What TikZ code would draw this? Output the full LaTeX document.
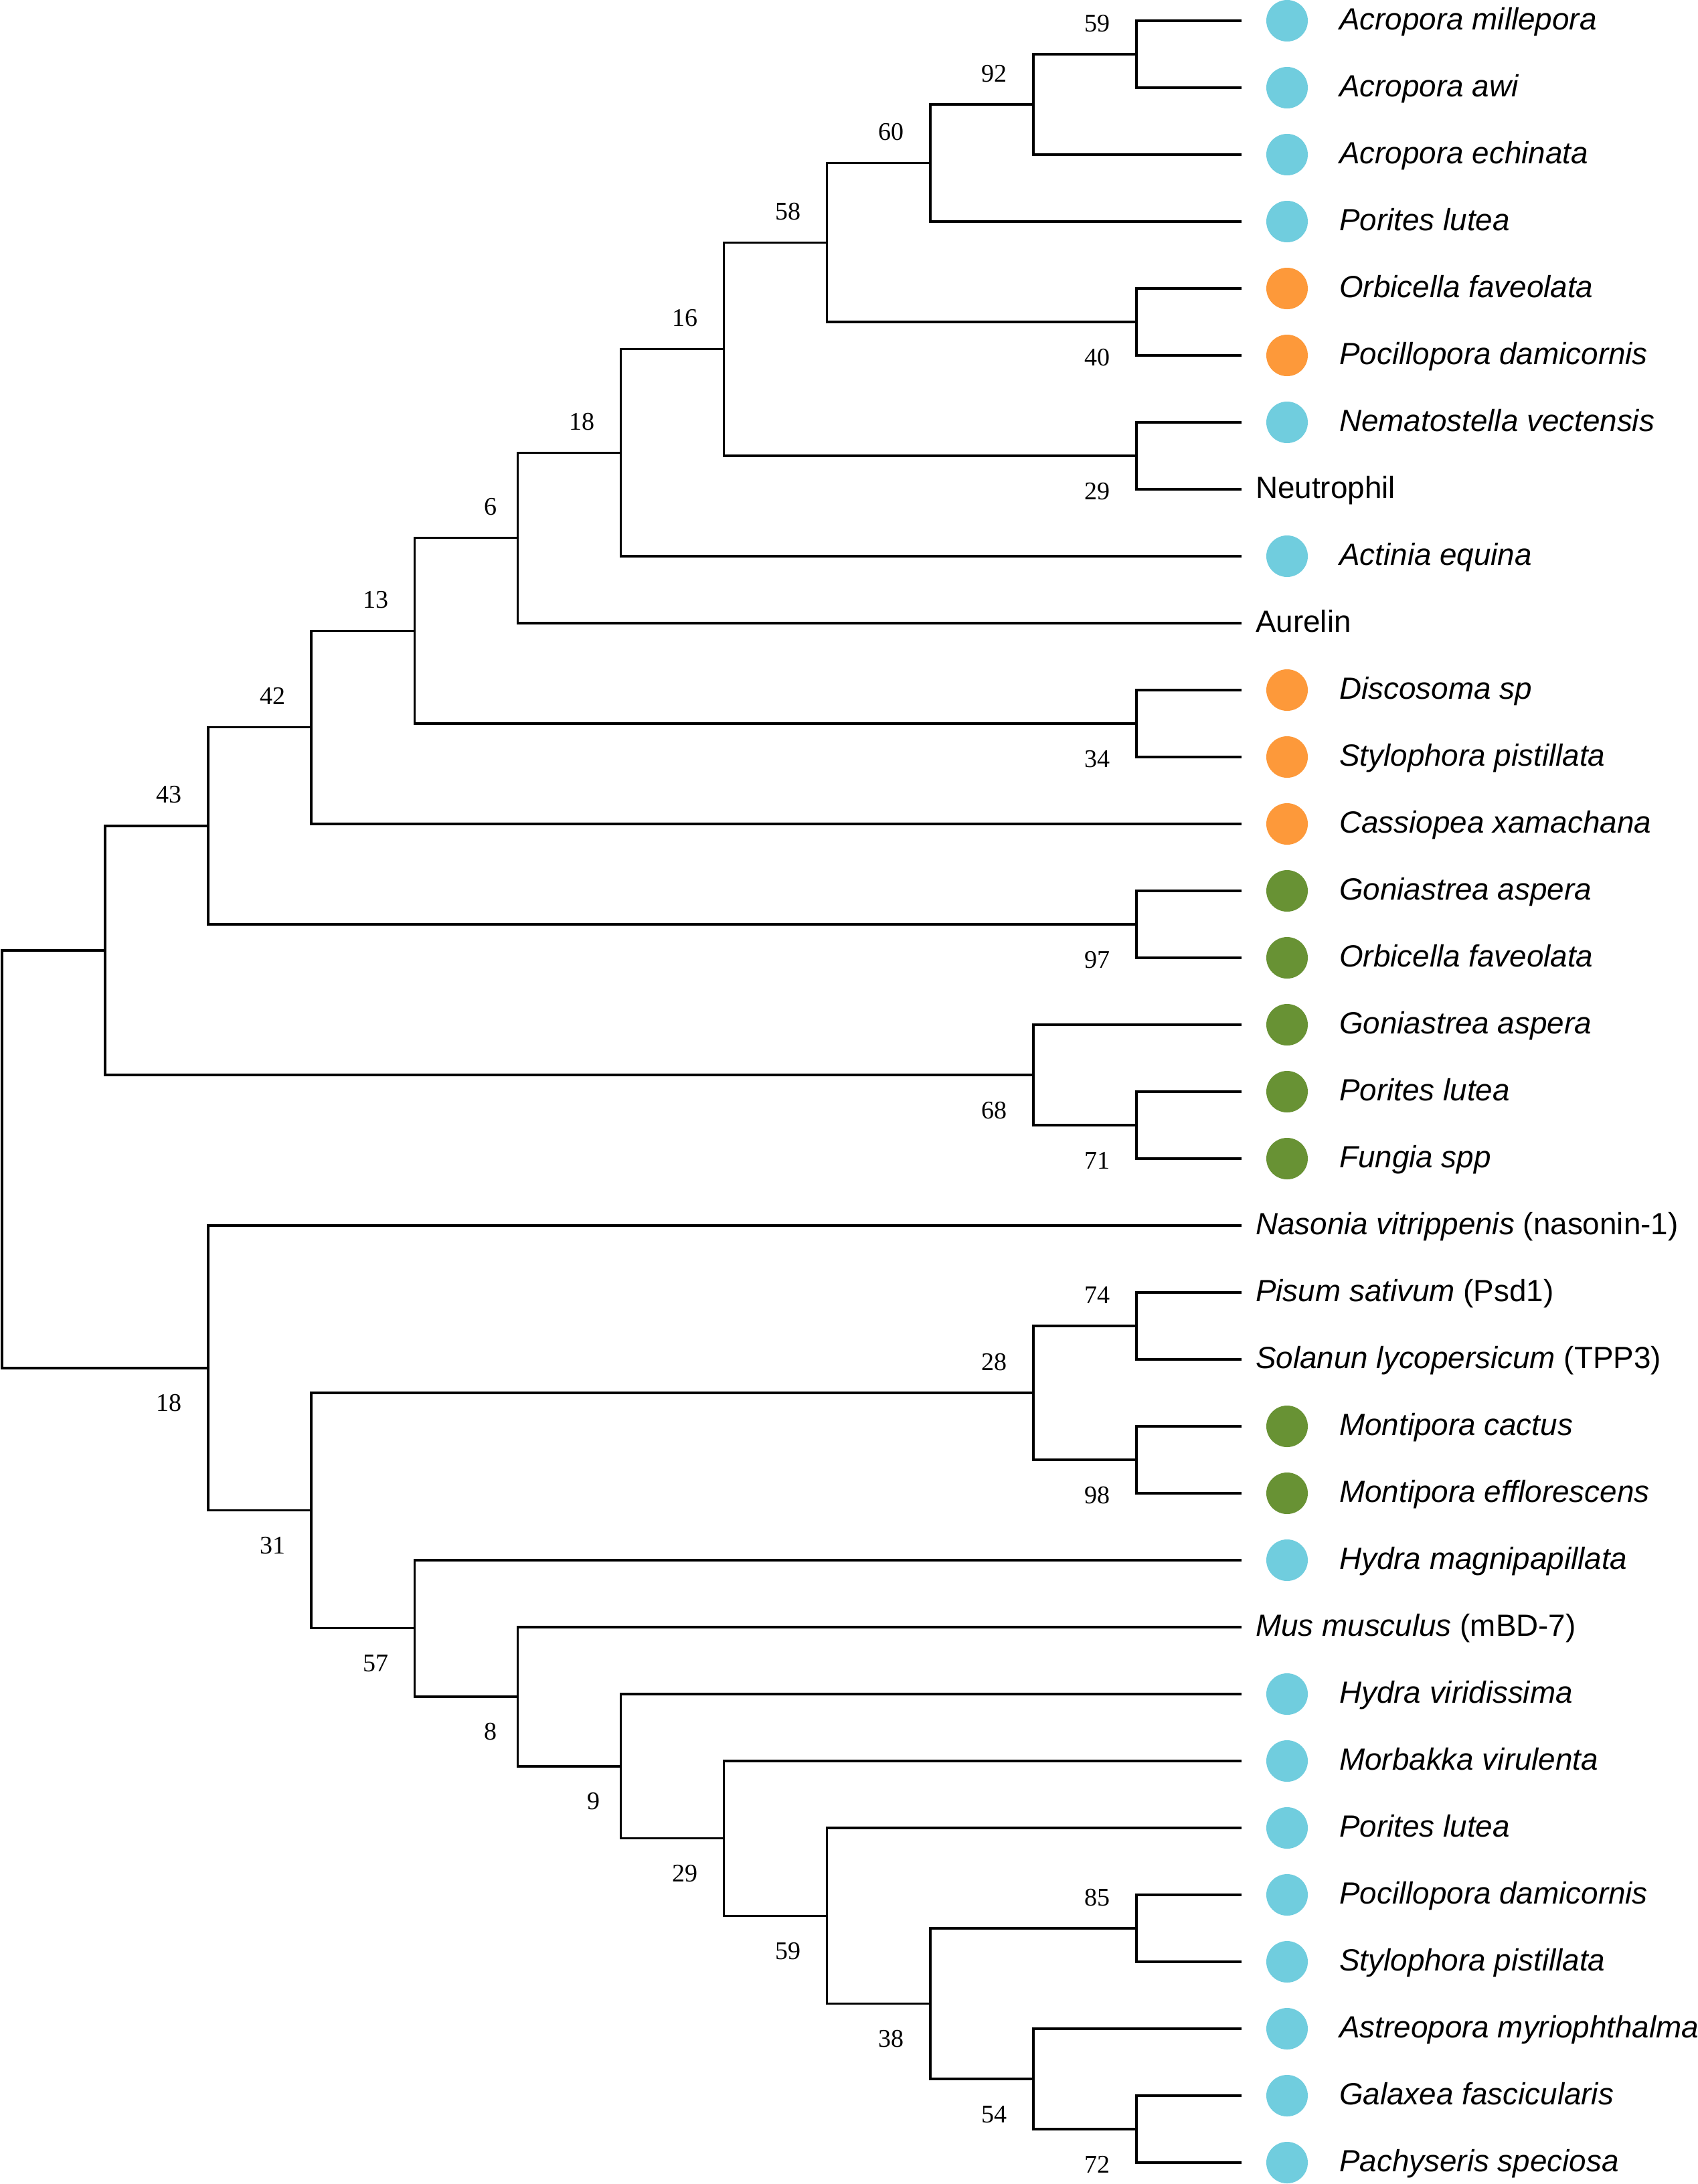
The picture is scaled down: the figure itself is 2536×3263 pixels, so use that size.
\documentclass[tikz,border=0pt]{standalone}
\usepackage{fontspec}
\setmainfont{Liberation Sans}
\newfontfamily\numfont{Liberation Serif}
\usetikzlibrary{calc}
\definecolor{cyanc}{RGB}{112,205,222}
\definecolor{orangec}{RGB}{253,153,58}
\definecolor{greenc}{RGB}{104,146,52}
\newcommand\clade[3]{\draw[branch] (#2) -- (#2 -| #1) -- (#3 -| #1) -- (#3);}
\newcommand\bsA[3]{\node[bootlab,anchor=base east] (b#1) at ($(#1)+(-#2,-34)$) {#3};}
\newcommand\bsB[3]{\node[bootlab,anchor=base east] (b#1) at ($(#1)+(-#2,65)$) {#3};}
\newcommand\dotleaf[3]{\node[dotc=#2] (dot#1) at (1923,{31+100*#1}) {};
  \node[leaftext] (t#1) at (2001,{44+100*#1}) {\itshape #3};}
\newcommand\plainleaf[2]{\node[leaftext] (t#1) at (1876,{44+100*#1}) {#2};}
\begin{document}
\begin{tikzpicture}[x=1pt,y=-1pt,
  branch/.style={line width=3.5pt, line join=miter},
  dotc/.style={circle, fill=#1, draw=none, minimum size=62pt, inner sep=0pt},
  leaftext/.style={anchor=base west, inner sep=0pt, font=\fontsize{45.8}{55}\selectfont},
  bootlab/.style={inner sep=0pt, font=\numfont\fontsize{38}{45}\selectfont},
]
\useasboundingbox (0,0) rectangle (2536,3263);
\fill[white] (0,0) rectangle (2536,3263);
% leaf tips
\foreach \i in {0,...,32} {\coordinate (l\i) at (1855,{31+100*\i});}
% internal nodes
\coordinate (n59) at (1698,81);
\coordinate (n92) at (1543.9,156);
\coordinate (n60) at (1389.8,243.5);
\coordinate (n40) at (1698,481);
\coordinate (n58) at (1235.7,362.25);
\coordinate (n29a) at (1698,681);
\coordinate (n16) at (1081.6,521.6);
\coordinate (n18a) at (927.5,676.3);
\coordinate (n6) at (773.4,803.7);
\coordinate (n34) at (1698,1081);
\coordinate (n13) at (619.3,942.3);
\coordinate (n42) at (465.2,1086.7);
\coordinate (n97) at (1698,1381);
\coordinate (n43) at (311.1,1233.8);
\coordinate (n71) at (1698,1681);
\coordinate (n68) at (1543.9,1606);
\coordinate (nU) at (157,1419.9);
\coordinate (n74) at (1698,1981);
\coordinate (n98) at (1698,2181);
\coordinate (n28) at (1543.9,2081);
\coordinate (n85) at (1698,2881);
\coordinate (n72) at (1698,3181);
\coordinate (n54) at (1543.9,3106);
\coordinate (n38) at (1389.8,2993.5);
\coordinate (n59b) at (1235.7,2862.25);
\coordinate (n29b) at (1081.6,2746.6);
\coordinate (n9) at (927.5,2638.8);
\coordinate (n8) at (773.4,2534.9);
\coordinate (n57) at (619.3,2432.5);
\coordinate (n31) at (465.2,2256.7);
\coordinate (n18b) at (311.1,2043.9);
\coordinate (root) at (3,1731.9);
% branches
\clade{n59}{l0}{l1}
\clade{n92}{n59}{l2}
\clade{n60}{n92}{l3}
\clade{n40}{l4}{l5}
\clade{n58}{n60}{n40}
\clade{n29a}{l6}{l7}
\clade{n16}{n58}{n29a}
\clade{n18a}{n16}{l8}
\clade{n6}{n18a}{l9}
\clade{n34}{l10}{l11}
\clade{n13}{n6}{n34}
\clade{n42}{n13}{l12}
\clade{n97}{l13}{l14}
\clade{n43}{n42}{n97}
\clade{n71}{l16}{l17}
\clade{n68}{l15}{n71}
\clade{nU}{n43}{n68}
\clade{n74}{l19}{l20}
\clade{n98}{l21}{l22}
\clade{n28}{n74}{n98}
\clade{n85}{l28}{l29}
\clade{n72}{l31}{l32}
\clade{n54}{l30}{n72}
\clade{n38}{n85}{n54}
\clade{n59b}{l27}{n38}
\clade{n29b}{l26}{n59b}
\clade{n9}{l25}{n29b}
\clade{n8}{l24}{n9}
\clade{n57}{l23}{n8}
\clade{n31}{n28}{n57}
\clade{n18b}{l18}{n31}
\clade{root}{nU}{n18b}
% support values
\bsA{n59}{39}{59}
\bsA{n92}{39}{92}
\bsA{n60}{39}{60}
\bsA{n58}{39}{58}
\bsA{n16}{39}{16}
\bsA{n18a}{39}{18}
\bsA{n6}{31}{6}
\bsA{n13}{39}{13}
\bsA{n42}{39}{42}
\bsA{n43}{39}{43}
\bsA{n74}{39}{74}
\bsA{n28}{39}{28}
\bsA{n85}{39}{85}
\bsB{n40}{39}{40}
\bsB{n29a}{39}{29}
\bsB{n34}{39}{34}
\bsB{n97}{39}{97}
\bsB{n71}{39}{71}
\bsB{n68}{39}{68}
\bsB{n98}{39}{98}
\bsB{n18b}{39}{18}
\bsB{n31}{39}{31}
\bsB{n57}{39}{57}
\bsB{n8}{31}{8}
\bsB{n9}{31}{9}
\bsB{n29b}{39}{29}
\bsB{n59b}{39}{59}
\bsB{n38}{39}{38}
\bsB{n54}{39}{54}
\bsB{n72}{39}{72}
% leaves
\dotleaf{0}{cyanc}{Acropora millepora}
\dotleaf{1}{cyanc}{Acropora awi}
\dotleaf{2}{cyanc}{Acropora echinata}
\dotleaf{3}{cyanc}{Porites lutea}
\dotleaf{4}{orangec}{Orbicella faveolata}
\dotleaf{5}{orangec}{Pocillopora damicornis}
\dotleaf{6}{cyanc}{Nematostella vectensis}
\plainleaf{7}{Neutrophil}
\dotleaf{8}{cyanc}{Actinia equina}
\plainleaf{9}{Aurelin}
\dotleaf{10}{orangec}{Discosoma sp}
\dotleaf{11}{orangec}{Stylophora pistillata}
\dotleaf{12}{orangec}{Cassiopea xamachana}
\dotleaf{13}{greenc}{Goniastrea aspera}
\dotleaf{14}{greenc}{Orbicella faveolata}
\dotleaf{15}{greenc}{Goniastrea aspera}
\dotleaf{16}{greenc}{Porites lutea}
\dotleaf{17}{greenc}{Fungia spp}
\plainleaf{18}{\textit{Nasonia vitrippenis} (nasonin-1)}
\plainleaf{19}{\textit{Pisum sativum} (Psd1)}
\plainleaf{20}{\textit{Solanun lycopersicum} (TPP3)}
\dotleaf{21}{greenc}{Montipora cactus}
\dotleaf{22}{greenc}{Montipora efflorescens}
\dotleaf{23}{cyanc}{Hydra magnipapillata}
\plainleaf{24}{\textit{Mus musculus} (mBD-7)}
\dotleaf{25}{cyanc}{Hydra viridissima}
\dotleaf{26}{cyanc}{Morbakka virulenta}
\dotleaf{27}{cyanc}{Porites lutea}
\dotleaf{28}{cyanc}{Pocillopora damicornis}
\dotleaf{29}{cyanc}{Stylophora pistillata}
\dotleaf{30}{cyanc}{Astreopora myriophthalma}
\dotleaf{31}{cyanc}{Galaxea fascicularis}
\dotleaf{32}{cyanc}{Pachyseris speciosa}
\end{tikzpicture}
\end{document}
